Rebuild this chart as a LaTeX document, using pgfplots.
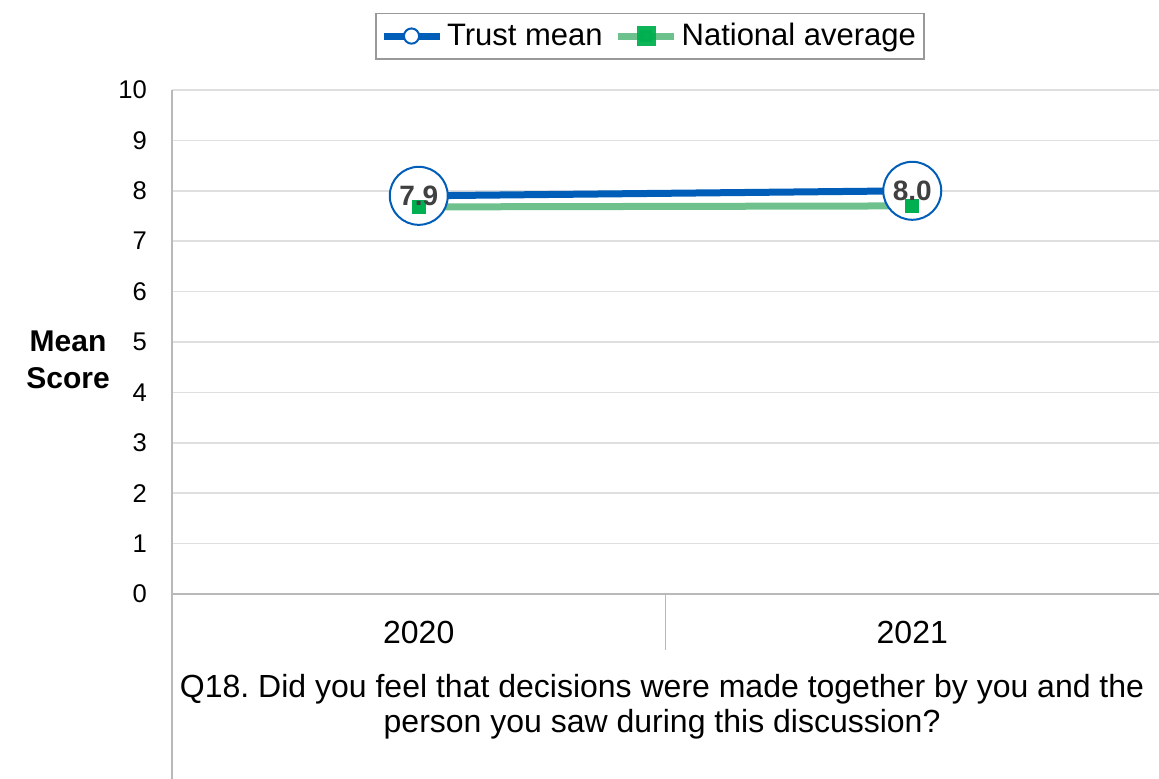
\documentclass[border=0pt]{standalone}
\usepackage{fontspec}
\setmainfont{Liberation Sans}
\usepackage{pgfplots}
\pgfplotsset{compat=1.18}
\definecolor{tblue}{RGB}{0,94,184}
\definecolor{nline}{RGB}{102,190,134}
\definecolor{nmark}{RGB}{0,176,80}
\definecolor{lblgray}{RGB}{64,64,64}
\frenchspacing
\begin{document}
\begin{tikzpicture}[x=1pt,y=1pt]
\useasboundingbox (0,0) rectangle (579.5,389.5);
\begin{axis}[
  at={(86pt,92.5pt)}, anchor=south west,
  scale only axis, width=493.5pt, height=252pt,
  xmin=0, xmax=2, ymin=0, ymax=10,
  ytick={0,1,...,10},
  xtick={0.5,1.5}, xticklabels={2020,2021},
  /pgf/number format/assume math mode=true,
  axis lines*=left,
  axis line style={draw=gray!55, line width=0.8pt, -},
  ymajorgrids, grid style={draw=gray!25, line width=0.8pt},
  major tick length=0pt,
  tick style={draw=none},
  yticklabel style={font=\fontsize{12.8}{14}\selectfont, anchor=east, xshift=-9pt},
  xticklabel style={font=\fontsize{16}{18}\selectfont, anchor=center, yshift=-19pt},
  xlabel={Q18. Did you feel that decisions were made together by you and the\\person you saw during this discussion?},
  every axis x label/.style={at={(rel axis cs:0.4965,0)}, anchor=center, yshift=-56.5pt, align=center, font=\fontsize{16}{17.5}\selectfont},
  ylabel={Mean\\Score},
  every axis y label/.style={at={(rel axis cs:0,0.464)}, anchor=center, xshift=-52pt, align=center, font=\bfseries\fontsize{15}{18.5}\selectfont},
  clip=false,
  legend columns=2,
  legend style={at={(rel axis cs:0.4843,1.107)}, anchor=center, draw=gray!80, line width=0.8pt,
    font=\fontsize{15.5}{18}\selectfont, inner xsep=2pt, inner ysep=3pt,
    /tikz/every even column/.append style={column sep=4pt}},
]
\addplot[tblue, line width=3.5pt, mark=*, mark size=14.5pt,
  mark options={fill=white, draw=tblue, line width=1pt},
  legend image code/.code={
    \draw[tblue, line width=3.5pt] (0pt,0pt) -- (28pt,0pt);
    \draw[tblue, line width=1pt, fill=white] (14pt,0pt) circle (3.8pt);
  }] coordinates {(0.5,7.9) (1.5,8.0)};
\addlegendentry{Trust mean}
\addplot[nline, line width=3.5pt, opacity=0.95, mark=square*, mark size=3.3pt,
  mark options={fill=nmark, draw=nmark, line width=0pt, opacity=1},
  legend image code/.code={
    \draw[nline, line width=3.5pt] (0pt,0pt) -- (28pt,0pt);
    \fill[nmark] (11pt,-3.2pt) rectangle (17pt,3.2pt);
  }] coordinates {(0.5,7.68) (1.5,7.70)};
\addlegendentry{National average}
\addplot[draw=none, mark=none, forget plot, nodes near coords, point meta=explicit symbolic,
  nodes near coords style={anchor=center, font=\bfseries\fontsize{14}{16}\selectfont, text=lblgray}]
  coordinates {(0.5,7.9)[7.9] (1.5,8.0)[8.0]};
\draw[gray!55, line width=0.8pt] (rel axis cs:0,0) -- ++(0pt,-92.5pt);
\draw[gray!55, line width=0.8pt] (axis cs:1,0) -- ++(0pt,-28pt);
\end{axis}
\end{tikzpicture}
\end{document}
